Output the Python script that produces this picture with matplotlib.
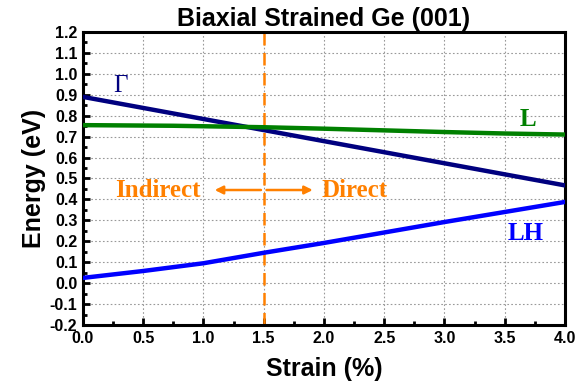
import matplotlib
matplotlib.use("Agg")
import matplotlib.pyplot as plt
from matplotlib.ticker import MultipleLocator

# ---------- data ----------
strain_gamma = [0.0, 4.0]
e_gamma = [0.89, 0.467]

strain_l = [0.0, 0.75, 1.5, 2.0, 2.5, 3.0, 3.5, 4.0]
e_l = [0.755, 0.752, 0.745, 0.738, 0.730, 0.722, 0.715, 0.710]

strain_lh = [0.0, 0.5, 1.0, 1.5, 2.0, 2.5, 3.0, 3.5, 4.0]
e_lh = [0.025, 0.058, 0.095, 0.145, 0.192, 0.242, 0.292, 0.340, 0.388]

crossover = 1.5

NAVY, GREEN, BLUE, ORANGE = "#00007F", "#008000", "#0000FF", "#FF8000"
SANS = "Liberation Sans"
SERIF = "Liberation Serif"

fig = plt.figure(figsize=(5.75, 3.88), dpi=100)
ax = fig.add_axes([0.1443, 0.1624, 0.8383, 0.7551])

ax.plot(strain_gamma, e_gamma, color=NAVY, lw=3.2, zorder=3)
ax.plot(strain_l, e_l, color=GREEN, lw=3.2, zorder=3)
ax.plot(strain_lh, e_lh, color=BLUE, lw=3.2, zorder=3)
ax.axvline(crossover, color=ORANGE, lw=1.8, ls=(0, (5, 3)), zorder=2)

# 간접/직접 화살표
ax.annotate("", xy=(1.07, 0.445), xytext=(crossover, 0.445),
            arrowprops=dict(arrowstyle="-|>", color=ORANGE, lw=1.8, mutation_scale=12))
ax.annotate("", xy=(1.93, 0.445), xytext=(crossover, 0.445),
            arrowprops=dict(arrowstyle="-|>", color=ORANGE, lw=1.8, mutation_scale=12))
ax.text(0.98, 0.445, "Indirect", color=ORANGE, family=SERIF, weight="bold",
        fontsize=18, ha="right", va="center")
ax.text(1.98, 0.445, "Direct", color=ORANGE, family=SERIF, weight="bold",
        fontsize=18, ha="left", va="center")

ax.text(0.31, 0.94, "Γ", color=NAVY, family=SERIF, fontsize=18, ha="center", va="center")
ax.text(3.69, 0.78, "L", color=GREEN, family=SERIF, weight="bold", fontsize=18,
        ha="center", va="center")
ax.text(3.67, 0.235, "LH", color=BLUE, family=SERIF, weight="bold", fontsize=18,
        ha="center", va="center")

ax.set_xlim(0, 4)
ax.set_ylim(-0.2, 1.2)
ax.xaxis.set_major_locator(MultipleLocator(0.5))
ax.xaxis.set_minor_locator(MultipleLocator(0.25))
ax.yaxis.set_major_locator(MultipleLocator(0.1))
ax.yaxis.set_minor_locator(MultipleLocator(0.05))
ax.xaxis.set_major_formatter(lambda v, p: f"{v:.1f}")
ax.yaxis.set_major_formatter(lambda v, p: f"{v:.1f}")

ax.grid(True, which="major", color="#999999", ls=(0, (1.5, 2)), lw=0.8, zorder=0)
ax.tick_params(which="both", direction="in", width=2, top=False, right=False)
ax.tick_params(which="major", length=5, labelsize=11.5, pad=4)
ax.tick_params(which="minor", length=3)
for lab in ax.get_xticklabels() + ax.get_yticklabels():
    lab.set_family(SANS); lab.set_weight("bold")
for s in ax.spines.values():
    s.set_linewidth(2.2)

ax.set_xlabel("Strain (%)", family=SANS, weight="bold", fontsize=18, labelpad=8)
ax.set_ylabel("Energy (eV)", family=SANS, weight="bold", fontsize=18, labelpad=3)
ax.set_title("Biaxial Strained Ge (001)", family=SANS, weight="bold", fontsize=18, pad=4)

fig.savefig("out.png", dpi=100)
